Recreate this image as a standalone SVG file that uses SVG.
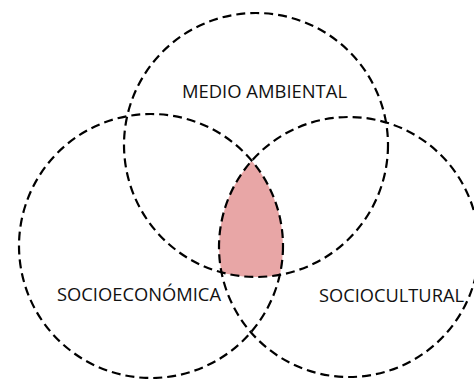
<svg xmlns="http://www.w3.org/2000/svg" width="474" height="379" viewBox="0 0 474 379">
<style>
.ring{fill:none;stroke:#000;stroke-width:2.2;stroke-dasharray:9 5}
.lbl{font-family:"Open Sans","Liberation Sans",sans-serif;font-size:17.5px;fill:#111}
</style>
<defs>
<clipPath id="cr"><circle cx="349" cy="247" r="130"/></clipPath>
<clipPath id="ct"><circle cx="256" cy="145" r="132"/></clipPath>
</defs>
<g id="overlap">
<g clip-path="url(#cr)"><g clip-path="url(#ct)"><circle cx="151" cy="246" r="132" fill="#E8A6A6"/></g></g>
</g>
<g id="medio-ambiental">
<circle class="ring" cx="256" cy="145" r="132"/>
<text class="lbl" x="182" y="98" textLength="165" lengthAdjust="spacingAndGlyphs">MEDIO AMBIENTAL</text>
</g>
<g id="socioeconomica">
<circle class="ring" cx="151" cy="246" r="132"/>
<text class="lbl" x="57" y="301" textLength="164" lengthAdjust="spacingAndGlyphs">SOCIOECONÓMICA</text>
</g>
<g id="sociocultural">
<circle class="ring" cx="349" cy="247" r="130"/>
<text class="lbl" x="319" y="302" textLength="145" lengthAdjust="spacingAndGlyphs">SOCIOCULTURAL</text>
</g>
<g id="connectors"/>
</svg>
